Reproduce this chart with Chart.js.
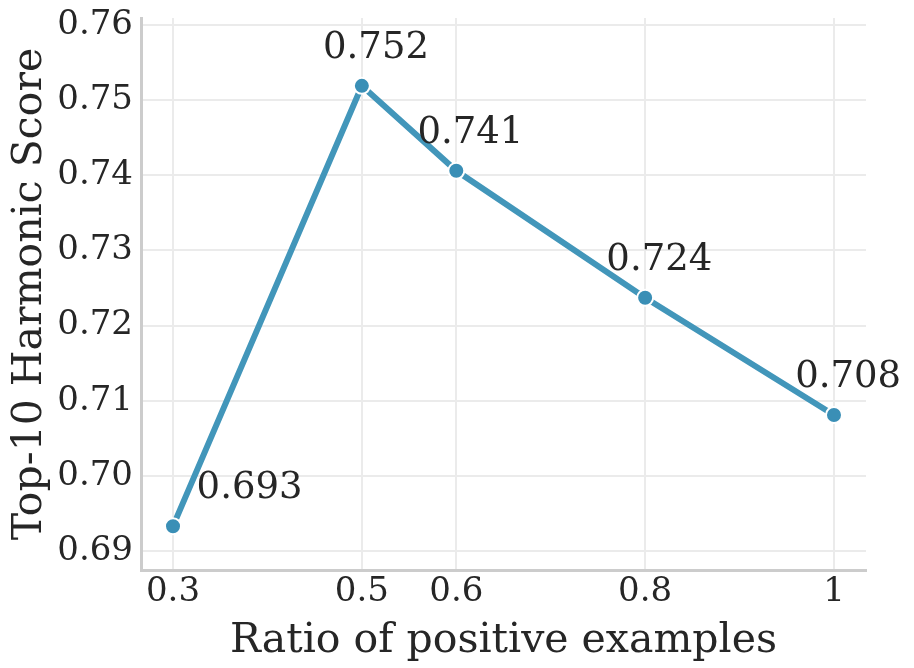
<!DOCTYPE html>
<html>
<head>
<meta charset="utf-8">
<script src="https://cdn.jsdelivr.net/npm/chart.js@4.4.1/dist/chart.umd.min.js"></script>
<style>
  html, body { margin: 0; padding: 0; background: #fff; }
  #wrap { width: 914px; height: 668px; position: relative; }
</style>
</head>
<body>
<div id="wrap"><canvas id="chart"></canvas></div>
<script>
// ── Data ─────────────────────────────────────────────────────────────────
var ratios   = [0.3, 0.5, 0.6, 0.8, 1];
var scores   = [0.6933, 0.7519, 0.7406, 0.7237, 0.7081];
var labels   = ['0.693', '0.752', '0.741', '0.724', '0.708'];
var xTicks   = [0.3, 0.5, 0.6, 0.8, 1];
var yTicks   = [0.69, 0.70, 0.71, 0.72, 0.73, 0.74, 0.75, 0.76];

var FONT = "'DejaVu Serif', serif";
var TEXT = '#262626';

// value labels next to each point (offset in data units)
var pointLabels = {
    id: 'pointLabels',
    afterDatasetsDraw: function (chart) {
        var ctx = chart.ctx, xs = chart.scales.x, ys = chart.scales.y;
        ctx.save();
        ctx.font = '37px ' + FONT;
        ctx.fillStyle = TEXT;
        ctx.textBaseline = 'middle';
        ratios.forEach(function (r, i) {
            var first = i === 0;
            ctx.textAlign = first ? 'left' : 'center';
            var px = xs.getPixelForValue(r + (first ? 0.025 : 0.015));
            var py = ys.getPixelForValue(scores[i] + 0.005);
            ctx.fillText(labels[i], px, py);
        });
        ctx.restore();
    }
};

new Chart(document.getElementById('chart'), {
    type: 'scatter',
    data: {
        datasets: [{
            data: ratios.map(function (r, i) { return { x: r, y: scores[i] }; }),
            showLine: true,
            borderColor: '#4296ba',
            borderWidth: 6,
            pointRadius: 8,
            pointBackgroundColor: '#3a8fb6',
            pointBorderColor: '#ffffff',
            pointBorderWidth: 2,
        }]
    },
    options: {
        responsive: true,
        maintainAspectRatio: false,
        animation: false,
        layout: { padding: { top: 18, right: 48, left: 0, bottom: 0 } },
        plugins: { legend: { display: false }, tooltip: { enabled: false } },
        scales: {
            x: {
                type: 'linear',
                min: 0.2661, max: 1.0339,
                afterBuildTicks: function (s) { s.ticks = xTicks.map(function (v) { return { value: v }; }); },
                afterFit: function (s) { s.height = 98; s.paddingLeft = 0; s.paddingRight = 0; },
                ticks: {
                    font: { family: FONT, size: 34 }, color: TEXT, padding: 2,
                    maxRotation: 0, autoSkip: false,
                    callback: function (v) { return String(v); }
                },
                grid: { color: '#ebebeb', lineWidth: 2, drawTicks: false },
                border: { color: '#cccccc', width: 3 },
                title: {
                    display: true, text: 'Ratio of positive examples',
                    font: { family: FONT, size: 41 }, color: TEXT, padding: { top: 0, bottom: 2 }
                }
            },
            y: {
                min: 0.68747, max: 0.76093,
                afterBuildTicks: function (s) { s.ticks = yTicks.map(function (v) { return { value: v }; }); },
                afterFit: function (s) { s.width = 141; s.paddingTop = 0; s.paddingBottom = 0; },
                ticks: {
                    font: { family: FONT, size: 34 }, color: TEXT, padding: 8,
                    callback: function (v) { return v.toFixed(2); }
                },
                grid: { color: '#ebebeb', lineWidth: 2, drawTicks: false },
                border: { color: '#cccccc', width: 3 },
                title: {
                    display: true, text: 'Top-10 Harmonic Score',
                    font: { family: FONT, size: 41 }, color: TEXT, padding: { top: 6, bottom: 0 }
                }
            }
        }
    },
    plugins: [pointLabels]
});
</script>
</body>
</html>
